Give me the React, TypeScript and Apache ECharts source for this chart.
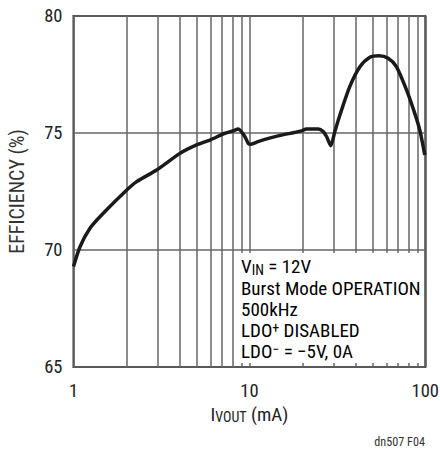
import React, { useEffect, useRef } from "react";
import * as echarts from "echarts";

const currentMA = [1.0, 1.089, 1.241, 1.477, 1.961, 2.286, 2.97, 4.03, 5.01, 5.97, 6.9, 7.26, 8.0, 8.64, 9.43, 9.85, 10.2, 11.2, 13, 15, 18, 19.8, 21.1, 24.6, 26.3, 27.5, 29.0, 30.6, 32.7, 37.2, 42.5, 48.4, 54.6, 61.5, 68.6, 78.2, 87.1, 93.0, 99.3];
const efficiency = [69.29, 70.14, 70.93, 71.57, 72.49, 72.92, 73.42, 74.13, 74.49, 74.7, 74.92, 74.99, 75.08, 75.17, 74.84, 74.56, 74.52, 74.63, 74.78, 74.9, 75.02, 75.09, 75.17, 75.17, 75.06, 74.84, 74.46, 75.06, 75.77, 76.98, 77.83, 78.24, 78.3, 78.19, 77.83, 76.84, 75.84, 75.13, 74.06];
const minorGridX = [2, 3, 4, 5, 6, 7, 8, 9, 20, 30, 40, 50, 60, 70, 80, 90];
const xTickLabels = [1, 10, 100];
const yTicks = [65, 70, 75, 80];
const noteLines = ["{n|V}{sub|IN}{n| = 12V}", "{n|Burst Mode OPERATION}", "{n|500kHz}", "{n|LDO}{sup|+}{n| DISABLED}", "{n|LDO}{sup|\u2212}{n| = \u22125V, 0A}"];

const FONT = "'Liberation Sans Narrow', 'Roboto Condensed', 'Liberation Sans', Arial, sans-serif";

export default function App() {
  const ref = useRef<HTMLDivElement>(null);
  useEffect(() => {
    if (!ref.current) return;
    const chart = echarts.init(ref.current, undefined, { renderer: "svg" });
    const richStyle = {
      n: { fontSize: 19, fontFamily: FONT, color: "#222", lineHeight: 20, verticalAlign: "middle" },
      sub: { fontSize: 14, fontFamily: FONT, color: "#222", lineHeight: 13, verticalAlign: "bottom" },
      sup: { fontSize: 14, fontFamily: FONT, color: "#222", lineHeight: 13, verticalAlign: "top" },
    };
    const noteY = [266.7, 288, 309.3, 330.5, 351.8];
    chart.setOption({
      animation: false,
      backgroundColor: "#fff",
      grid: {
        left: 73.5, right: 14.7, top: 16, bottom: 83,
        outerBoundsMode: "none", containLabel: false,
        show: true, borderColor: "#3a3a3a", borderWidth: 2, backgroundColor: "transparent",
      },
      xAxis: {
        type: "log",
        logBase: 10,
        min: 1,
        max: 100,
        name: "{n|I}{sub|VOUT}{n| (mA)}",
        nameLocation: "middle",
        nameGap: 35,
        nameTextStyle: { rich: richStyle },
        axisLine: { show: false },
        axisTick: { show: false },
        axisLabel: {
          fontSize: 18.5,
          fontFamily: FONT,
          color: "#222",
          margin: 14,
          formatter: (v: number) => (xTickLabels.includes(Math.round(v)) ? String(Math.round(v)) : ""),
        },
        splitLine: { show: true, lineStyle: { color: "#666", width: 1.5 } },
      },
      yAxis: {
        type: "value",
        min: yTicks[0],
        max: yTicks[yTicks.length - 1],
        interval: 5,
        name: "EFFICIENCY (%)",
        nameLocation: "middle",
        nameGap: 47,
        nameTextStyle: { fontSize: 20, fontFamily: FONT, color: "#333" },
        axisLine: { show: false },
        axisTick: { show: false },
        axisLabel: { fontSize: 18.5, fontFamily: FONT, color: "#222", margin: 11 },
        splitLine: { show: true, lineStyle: { color: "#666", width: 1.5 } },
      },
      series: [
        {
          type: "line",
          data: currentMA.map((x, i) => [x, efficiency[i]]),
          showSymbol: false,
          smooth: 0.25,
          lineStyle: { color: "#1a1a1a", width: 3.5 },
          z: 5,
          markLine: {
            silent: true,
            symbol: "none",
            label: { show: false },
            lineStyle: { color: "#666", width: 1.5, type: "solid" },
            data: minorGridX.map((v) => ({ xAxis: v })),
            z: 1,
          },
        },
      ],
      graphic: [
        { type: "rect", z: 50, shape: { x: 236, y: 253, width: 187, height: 110 }, style: { fill: "#fff" } },
        ...noteLines.map((t, i) => ({
          type: "text",
          z: 51,
          x: 241,
          y: noteY[i],
          style: { text: t, rich: richStyle, align: "left", verticalAlign: "middle" },
        })),
        { type: "text", z: 51, x: 425, y: 442, style: { text: "dn507 F04", fontSize: 12.2, fontFamily: FONT, fill: "#333", align: "right", verticalAlign: "middle" } },
      ],
    });
    return () => chart.dispose();
  }, []);
  return <div ref={ref} style={{ position: "fixed", left: 0, top: 0, width: 440, height: 450 }} />;
}
